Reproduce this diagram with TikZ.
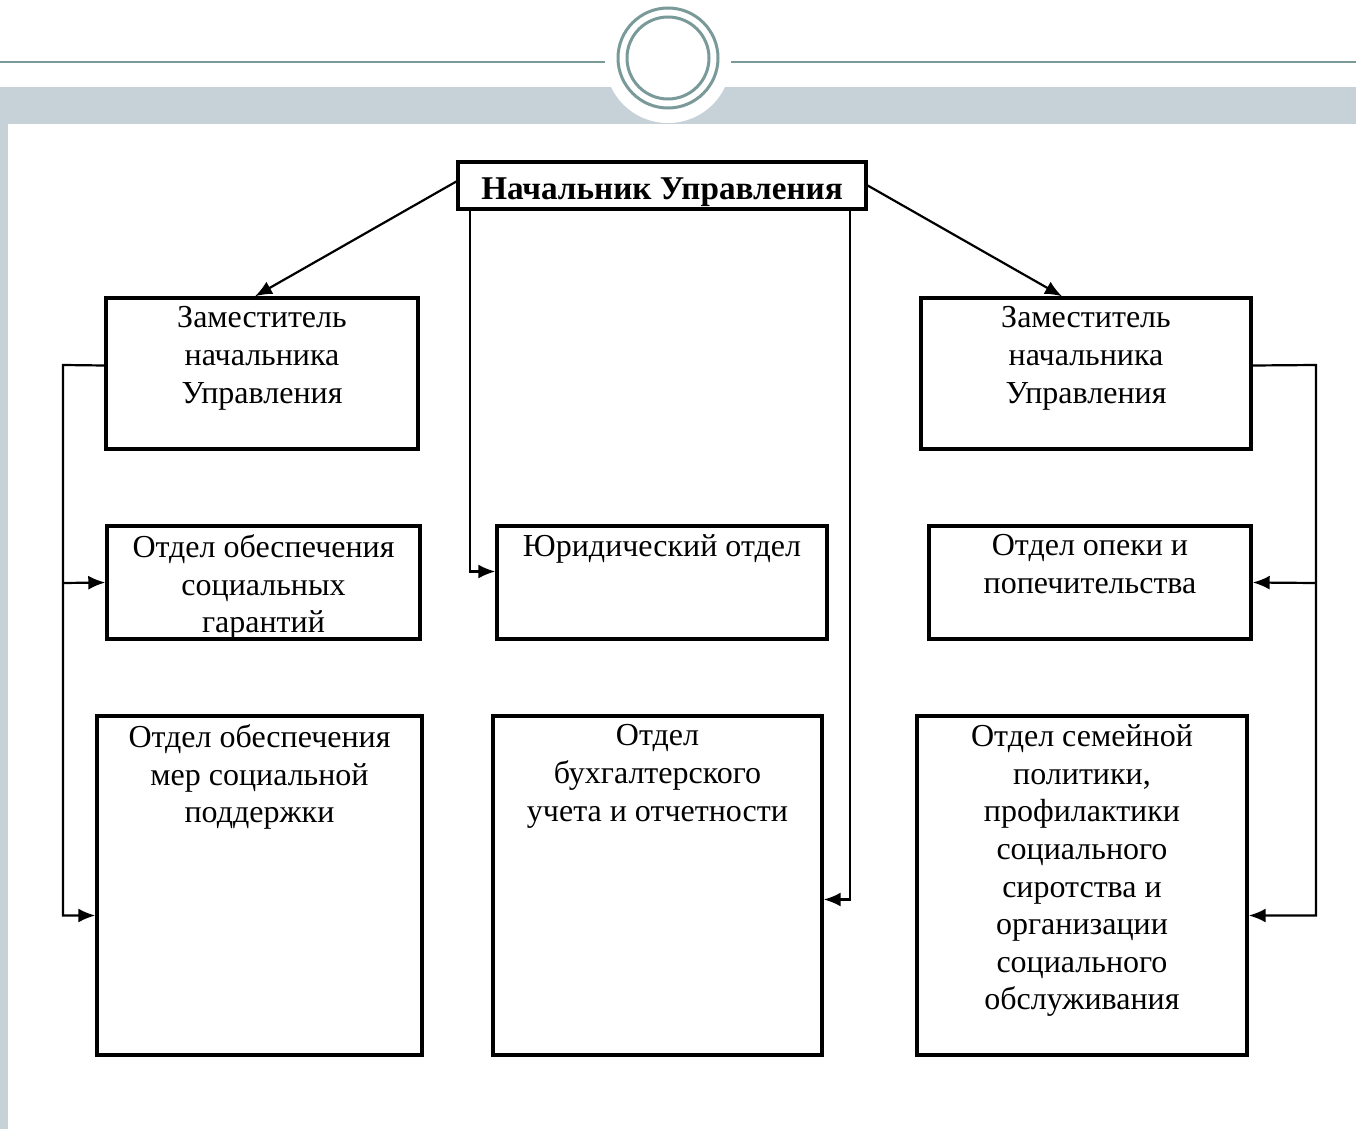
\documentclass[tikz,border=0pt]{standalone}
\usepackage{fontspec}
\setmainfont{Liberation Serif}
\usetikzlibrary{positioning,calc,arrows.meta,fit}
\definecolor{bandgray}{HTML}{C6D2D8}
\definecolor{rimteal}{HTML}{7A9A9A}
\tikzset{
	unit/.style={draw, line width=1.7pt, inner sep=0pt},
	caption/.style={anchor=north, align=center, inner sep=0pt, yshift=-5pt, font=\fontsize{16}{18.8}\selectfont},
	link/.style={line width=1.1pt, -{Latex[length=8.5pt,width=7pt]}},
}

\begin{document}
\begin{tikzpicture}[x=0.5pt, y=-0.5pt]
	\useasboundingbox (0,0) rectangle (1356,1129);
	% slide frame
	\fill[bandgray] (0,87) rectangle (1356,124);
	\fill[bandgray] (0,124) rectangle (8,1129);
	\draw[rimteal, line width=1.3pt] (0,62) -- (1356,62);
	\fill[white] (668,60) circle[radius=31.5pt];
	\draw[rimteal, line width=1.5pt] (668,58) circle[radius=25pt];
	\draw[rimteal, line width=1.5pt] (668,58) circle[radius=20.5pt];

	% boxes
	\node[unit, fit={(458,162) (866,209)}, label={[caption, anchor=center, yshift=1.5pt, font=\fontsize{16.6}{18.8}\selectfont\bfseries]center:Начальник Управления}] (chief) {};
	\node[unit, fit={(106,298) (418,449)}, label={[caption]north:Заместитель\\начальника\\Управления}] (l1) {};
	\node[unit, fit={(921,298) (1251,449)}, label={[caption]north:Заместитель\\начальника\\Управления}] (r1) {};
	\node[unit, fit={(107,526) (420,639)}, label={[caption]north:Отдел обеспечения\\социальных\\гарантий}] (l2) {};
	\node[unit, fit={(497,526) (827,639)}, label={[caption]north:Юридический отдел}] (m2) {};
	\node[unit, fit={(929,526) (1251,639)}, label={[caption]north:Отдел опеки и\\попечительства}] (r2) {};
	\node[unit, fit={(97,716) (422,1055)}, label={[caption]north:Отдел обеспечения\\мер социальной\\поддержки}] (l3) {};
	\node[unit, fit={(493,716) (822,1055)}, label={[caption]north:Отдел\\бухгалтерского\\учета и отчетности}] (m3) {};
	\node[unit, fit={(917,716) (1247,1055)}, label={[caption]north:Отдел семейной\\политики,\\профилактики\\социального\\сиротства и\\организации\\социального\\обслуживания}] (r3) {};

	\coordinate (ltap) at (63,583);
	\coordinate (rtap) at (1316,583);

	% links
	\draw[link] ([yshift=2pt]chief.west) -- ([xshift=-3.5pt]l1.north);
	\draw[link] (chief.east) -- ([xshift=-12pt]r1.north);
	\draw[link] ($(chief.south west)+(14,0)$) |- ($(m2.west)+(0,-11)$);
	\draw[link] ($(chief.south east)+(-18,0)$) |- ($(m3.east)+(0,14)$);
	\draw[link] ($(l1.west)+(0,-8)$) -- (ltap |- 0,365) |- ($(l3.west)+(0,30)$);
	\draw[link] (ltap) -- (l2.west);
	\draw[link] ($(r1.east)+(0,-8)$) -- (rtap |- 0,365) |- ($(r3.east)+(0,30)$);
	\draw[link] (rtap) -- (r2.east);
\end{tikzpicture}
\end{document}
